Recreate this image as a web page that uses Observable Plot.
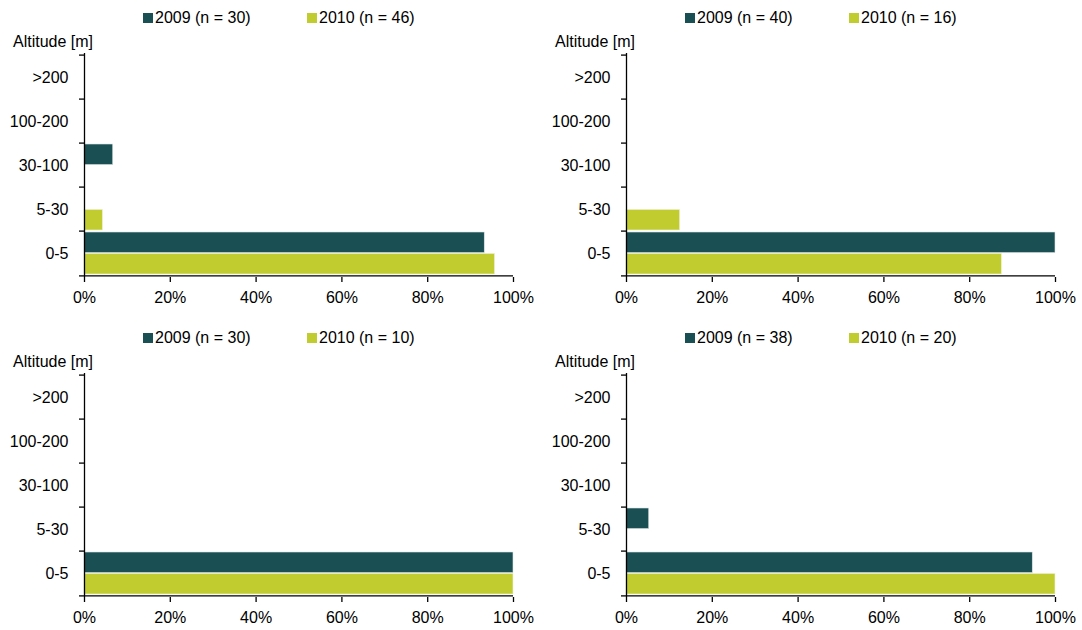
<!DOCTYPE html>
<html>
<head>
<meta charset="utf-8">
<script src="https://cdn.jsdelivr.net/npm/d3@7"></script>
<script src="https://cdn.jsdelivr.net/npm/@observablehq/plot@0.6"></script>
<style>
  html, body { margin: 0; padding: 0; background: #fff; }
  body { width: 1082px; height: 630px; position: relative; overflow: hidden;
         font-family: "Liberation Sans", Arial, sans-serif; color: #000; }
  .panel { position: absolute; width: 541px; height: 315px; }
  .plot { position: absolute; left: 0; }
  .leg { position: absolute; font-size: 16px; line-height: 16px; white-space: nowrap; }
  .sw { position: absolute; width: 10px; height: 10px; }
  .ylab { position: absolute; font-size: 16px; line-height: 16px; white-space: nowrap; }
</style>
</head>
<body>
<script>
const categories = [">200", "100-200", "30-100", "5-30", "0-5"];
const years = ["2009", "2010"];
const colors = ["#1a4f53", "#c1cd2f"];
const sampleSizes = [[30, 46], [40, 16], [30, 10], [38, 20]];
const xTicks = [0, 20, 40, 60, 80, 100];

const p1_2009 = [0, 0, 6.7, 0, 93.3];
const p1_2010 = [0, 0, 0, 4.3, 95.7];
const p2_2009 = [0, 0, 0, 0, 100];
const p2_2010 = [0, 0, 0, 12.5, 87.5];
const p3_2009 = [0, 0, 0, 0, 100];
const p3_2010 = [0, 0, 0, 0, 100];
const p4_2009 = [0, 0, 0, 5.3, 94.7];
const p4_2010 = [0, 0, 0, 0, 100];

const panels = [
  {left: 0, top: 0, v: [p1_2009, p1_2010], n: sampleSizes[0]},
  {left: 542, top: 0, v: [p2_2009, p2_2010], n: sampleSizes[1]},
  {left: 0, top: 320, v: [p3_2009, p3_2010], n: sampleSizes[2]},
  {left: 542, top: 320, v: [p4_2009, p4_2010], n: sampleSizes[3]}
];

const W = 540, H = 277, mT = 23, mB = 30, mL = 84, mR = 27;
const bw = (H - mT - mB) / categories.length;
const half = bw / 2;

for (const p of panels) {
  const div = document.createElement("div");
  div.className = "panel";
  div.style.left = p.left + "px";
  div.style.top = p.top + "px";
  document.body.appendChild(div);

  // legend
  const legX = [143, 307];
  years.forEach((yr, i) => {
    const sw = document.createElement("div");
    sw.className = "sw";
    sw.style.left = legX[i] + "px";
    sw.style.top = "13px";
    sw.style.background = colors[i];
    div.appendChild(sw);
    const t = document.createElement("div");
    t.className = "leg";
    t.style.left = (legX[i] + 12) + "px";
    t.style.top = "10px";
    t.textContent = `${yr} (n = ${p.n[i]})`;
    div.appendChild(t);
  });

  const yl = document.createElement("div");
  yl.className = "ylab";
  yl.style.left = "13px";
  yl.style.top = "34px";
  yl.textContent = "Altitude [m]";
  div.appendChild(yl);

  const data = [];
  years.forEach((yr, i) => categories.forEach((c, j) => {
    if (p.v[i][j] > 0) data.push({cat: c, year: yr, value: p.v[i][j]});
  }));

  const chart = Plot.plot({
    width: W, height: H,
    marginTop: mT, marginBottom: mB, marginLeft: mL, marginRight: mR,
    style: {fontFamily: '"Liberation Sans", Arial, sans-serif', fontSize: "16px", color: "#000", background: "transparent"},
    x: {domain: [0, 100], axis: null},
    y: {domain: categories, padding: 0, axis: null},
    marks: [
      Plot.barX(data.filter(d => d.year === "2009"), {
        x: "value", y: "cat", fill: colors[0], insetTop: 1, insetBottom: half,
        stroke: "#dfe8e6", strokeWidth: 0.6
      }),
      Plot.barX(data.filter(d => d.year === "2010"), {
        x: "value", y: "cat", fill: colors[1], insetTop: half, insetBottom: 1,
        stroke: "#eef2dc", strokeWidth: 0.6
      }),
      Plot.ruleX([0], {stroke: "#000", strokeWidth: 1.3}),
      Plot.ruleY(["0-5"], {x1: 0, x2: 100, dy: half, stroke: "#000", strokeWidth: 1.3}),
      Plot.axisY({ticks: categories, tickSize: 5, tickFormat: null, dy: -half, stroke: "#000", strokeWidth: 1.3, label: null}),
      Plot.axisY({ticks: ["0-5"], tickSize: 5, tickFormat: null, dy: half, stroke: "#000", strokeWidth: 1.3, label: null}),
      Plot.axisY({ticks: categories, tickSize: 0, tickPadding: 16, fill: "#000", label: null}),
      Plot.axisX({ticks: xTicks, tickSize: 5, tickPadding: 9, tickFormat: d => d + "%", fill: "#000", stroke: "#000", strokeWidth: 1.3, label: null})
    ]
  });
  chart.classList.add("plot");
  chart.style.top = "30px";
  div.appendChild(chart);
}
</script>
</body>
</html>
